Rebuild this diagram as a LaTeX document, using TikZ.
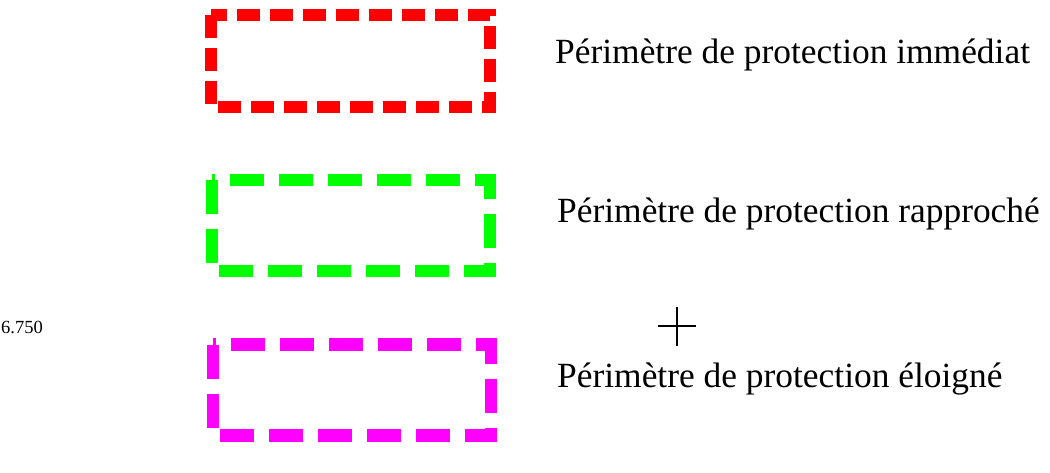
\documentclass[tikz,border=0pt]{standalone}
\usepackage{fontspec}
\setmainfont{Liberation Serif}
\definecolor{zonemag}{RGB}{255,0,255}
\definecolor{zonegreen}{RGB}{0,255,0}
\begin{document}
\begin{tikzpicture}[x=1pt,y=-1pt,
    zone/.style={line width=12.5pt,dash pattern=on 34pt off 15pt},
    lbl/.style={anchor=base west,inner sep=0pt,font=\fontsize{35.4}{38}\selectfont}]
        \useasboundingbox (0,0) rectangle (1050,473);
        \draw[zone,red,dash pattern=on 23pt off 10pt] (211,15) rectangle (490,107);
        \draw[zone,zonegreen] (212,180) rectangle (490,271);
        \draw[zone,zonemag] (213,344.5) rectangle (491,435.5);
        \node[lbl] (imm) at (555,64) {Périmètre de protection immédiat};
        \node[lbl] (rap) at (557,223) {Périmètre de protection rapproché};
        \node[lbl] (elo) at (557,387) {Périmètre de protection éloigné};
        \node[anchor=base west,inner sep=0pt,font=\fontsize{18.5}{20}\selectfont] (val) at (1,333) {6.750};
        \draw[line width=1.2pt] (658,326) -- (696,326) (677,307) -- (677,346);
    \end{tikzpicture}
\end{document}
